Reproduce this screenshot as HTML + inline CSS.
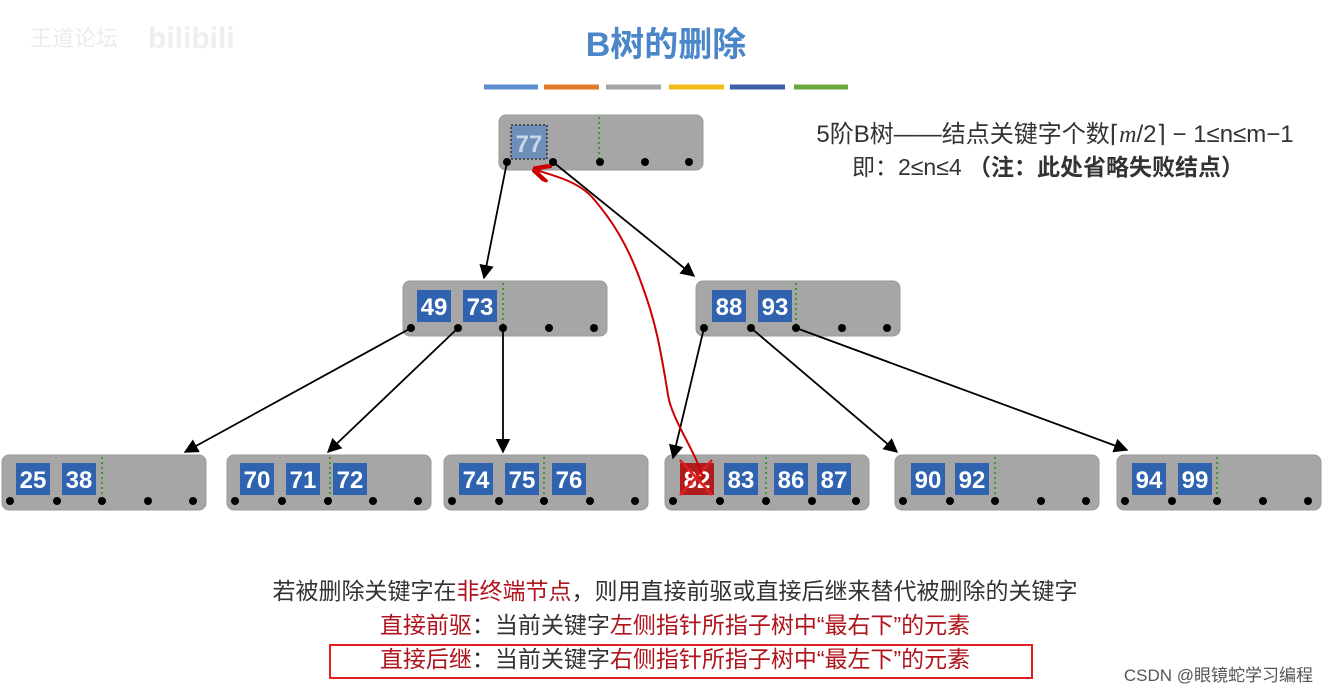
<!DOCTYPE html>
<html><head><meta charset="utf-8"><style>
html,body{margin:0;padding:0;background:#fff;width:1329px;height:694px;overflow:hidden}
svg text{font-family:"Liberation Sans","Noto Sans CJK SC",sans-serif}
</style></head><body>
<svg width="1329" height="694" viewBox="0 0 1329 694" xmlns="http://www.w3.org/2000/svg">
<defs>
<marker id="ah" viewBox="0 0 10 10" refX="9" refY="5" markerWidth="8" markerHeight="8" orient="auto"><path d="M0,0 L10,5 L0,10 z" fill="#000"/></marker>
<marker id="rh" viewBox="0 0 10 10" refX="8" refY="5" markerWidth="9" markerHeight="9" orient="auto"><path d="M0,0 L10,5 L0,10" fill="none" stroke="#c00" stroke-width="2.5"/></marker>
</defs>
<text x="30" y="46" font-size="22" fill="#ececec">王道论坛</text>
<text x="148" y="48" font-size="30" font-weight="bold" fill="#eee">bilibili</text>
<text x="666" y="56" font-size="34" font-weight="bold" fill="#4a86c8" text-anchor="middle">B树的删除</text>
<g stroke-width="5">
<line x1="484" y1="87" x2="538" y2="87" stroke="#5b8fd0"/>
<line x1="544" y1="87" x2="599" y2="87" stroke="#e07b2a"/>
<line x1="606" y1="87" x2="661" y2="87" stroke="#a5a5a5"/>
<line x1="669" y1="87" x2="724" y2="87" stroke="#f2bb1a"/>
<line x1="730" y1="87" x2="785" y2="87" stroke="#3f5ea8"/>
<line x1="794" y1="87" x2="848" y2="87" stroke="#6aaa3c"/>
</g>
<text x="1055" y="142" font-size="24" fill="#333" text-anchor="middle">5阶B树——结点关键字个数⌈<tspan font-family="Liberation Serif" font-style="italic">m</tspan>/2⌉ − 1≤n≤m−1</text>
<text x="1048" y="175" font-size="23" fill="#333" text-anchor="middle">即：2≤n≤4 <tspan font-weight="bold">（注：此处省略失败结点）</tspan></text>

<rect x="499" y="115" width="204" height="55" rx="7" fill="#a6a6a6" stroke="#999"/>
<rect x="511" y="125" width="36" height="34" fill="#6d8fba" stroke="#333" stroke-dasharray="2,2" stroke-width="1.5"/>
<text x="529" y="152" font-size="24" font-weight="bold" fill="#c9d7e8" text-anchor="middle">77</text>
<line x1="599" y1="117" x2="599" y2="160" stroke="#3a9a2a" stroke-width="2" stroke-dasharray="2,3"/>
<g fill="#000"><circle cx="507" cy="162" r="4"/><circle cx="553" cy="162" r="4"/><circle cx="600" cy="162" r="4"/><circle cx="645" cy="162" r="4"/><circle cx="689" cy="162" r="4"/></g>

<g transform="translate(403,281)">
<rect x="0" y="0" width="204" height="55" rx="7" fill="#a6a6a6" stroke="#999"/>
<line x1="100" y1="2" x2="100" y2="45" stroke="#3a9a2a" stroke-width="2" stroke-dasharray="2,3"/>
<rect x="14" y="9" width="34" height="32" fill="#2f63b0"/><text x="31" y="34" font-size="24" font-weight="bold" fill="#fff" text-anchor="middle">49</text>
<rect x="60" y="9" width="34" height="32" fill="#2f63b0"/><text x="77" y="34" font-size="24" font-weight="bold" fill="#fff" text-anchor="middle">73</text>
<g fill="#000"><circle cx="8" cy="47" r="4"/><circle cx="55" cy="47" r="4"/><circle cx="100" cy="47" r="4"/><circle cx="146" cy="47" r="4"/><circle cx="191" cy="47" r="4"/></g>
</g>
<g transform="translate(696,281)">
<rect x="0" y="0" width="204" height="55" rx="7" fill="#a6a6a6" stroke="#999"/>
<line x1="100" y1="2" x2="100" y2="45" stroke="#3a9a2a" stroke-width="2" stroke-dasharray="2,3"/>
<rect x="16" y="9" width="34" height="32" fill="#2f63b0"/><text x="33" y="34" font-size="24" font-weight="bold" fill="#fff" text-anchor="middle">88</text>
<rect x="62" y="9" width="34" height="32" fill="#2f63b0"/><text x="79" y="34" font-size="24" font-weight="bold" fill="#fff" text-anchor="middle">93</text>
<g fill="#000"><circle cx="8" cy="47" r="4"/><circle cx="55" cy="47" r="4"/><circle cx="100" cy="47" r="4"/><circle cx="146" cy="47" r="4"/><circle cx="191" cy="47" r="4"/></g>
</g>

<g transform="translate(2,455)">
<rect x="0" y="0" width="204" height="55" rx="7" fill="#a6a6a6" stroke="#999"/>
<line x1="100" y1="2" x2="100" y2="45" stroke="#3a9a2a" stroke-width="2" stroke-dasharray="2,3"/>
<rect x="14" y="8" width="34" height="32" fill="#2f63b0"/><text x="31" y="33" font-size="24" font-weight="bold" fill="#fff" text-anchor="middle">25</text>
<rect x="60" y="8" width="34" height="32" fill="#2f63b0"/><text x="77" y="33" font-size="24" font-weight="bold" fill="#fff" text-anchor="middle">38</text>
<g fill="#000"><circle cx="8" cy="46" r="4"/><circle cx="55" cy="46" r="4"/><circle cx="100" cy="46" r="4"/><circle cx="146" cy="46" r="4"/><circle cx="191" cy="46" r="4"/></g>
</g>
<g transform="translate(227,455)">
<rect x="0" y="0" width="204" height="55" rx="7" fill="#a6a6a6" stroke="#999"/>
<line x1="103" y1="2" x2="103" y2="45" stroke="#3a9a2a" stroke-width="2" stroke-dasharray="2,3"/>
<rect x="13" y="8" width="34" height="32" fill="#2f63b0"/><text x="30" y="33" font-size="24" font-weight="bold" fill="#fff" text-anchor="middle">70</text>
<rect x="59" y="8" width="34" height="32" fill="#2f63b0"/><text x="76" y="33" font-size="24" font-weight="bold" fill="#fff" text-anchor="middle">71</text>
<rect x="106" y="8" width="34" height="32" fill="#2f63b0"/><text x="123" y="33" font-size="24" font-weight="bold" fill="#fff" text-anchor="middle">72</text>
<g fill="#000"><circle cx="8" cy="46" r="4"/><circle cx="55" cy="46" r="4"/><circle cx="101" cy="46" r="4"/><circle cx="146" cy="46" r="4"/><circle cx="191" cy="46" r="4"/></g>
</g>
<g transform="translate(444,455)">
<rect x="0" y="0" width="204" height="55" rx="7" fill="#a6a6a6" stroke="#999"/>
<line x1="100" y1="2" x2="100" y2="45" stroke="#3a9a2a" stroke-width="2" stroke-dasharray="2,3"/>
<rect x="15" y="8" width="34" height="32" fill="#2f63b0"/><text x="32" y="33" font-size="24" font-weight="bold" fill="#fff" text-anchor="middle">74</text>
<rect x="61" y="8" width="34" height="32" fill="#2f63b0"/><text x="78" y="33" font-size="24" font-weight="bold" fill="#fff" text-anchor="middle">75</text>
<rect x="108" y="8" width="34" height="32" fill="#2f63b0"/><text x="125" y="33" font-size="24" font-weight="bold" fill="#fff" text-anchor="middle">76</text>
<g fill="#000"><circle cx="8" cy="46" r="4"/><circle cx="55" cy="46" r="4"/><circle cx="100" cy="46" r="4"/><circle cx="146" cy="46" r="4"/><circle cx="191" cy="46" r="4"/></g>
</g>
<g transform="translate(665,455)">
<rect x="0" y="0" width="204" height="55" rx="7" fill="#a6a6a6" stroke="#999"/>
<line x1="101" y1="2" x2="101" y2="45" stroke="#3a9a2a" stroke-width="2" stroke-dasharray="2,3"/>
<rect x="15" y="8" width="34" height="32" fill="#b01c1c"/><text x="32" y="33" font-size="24" font-weight="bold" fill="#fff" text-anchor="middle">82</text>
<line x1="15" y1="5" x2="47" y2="40" stroke="#e02020" stroke-width="2.5"/><line x1="47" y1="5" x2="15" y2="40" stroke="#e02020" stroke-width="2.5"/>
<rect x="59" y="8" width="34" height="32" fill="#2f63b0"/><text x="76" y="33" font-size="24" font-weight="bold" fill="#fff" text-anchor="middle">83</text>
<rect x="109" y="8" width="34" height="32" fill="#2f63b0"/><text x="126" y="33" font-size="24" font-weight="bold" fill="#fff" text-anchor="middle">86</text>
<rect x="152" y="8" width="34" height="32" fill="#2f63b0"/><text x="169" y="33" font-size="24" font-weight="bold" fill="#fff" text-anchor="middle">87</text>
<g fill="#000"><circle cx="8" cy="46" r="4"/><circle cx="55" cy="46" r="4"/><circle cx="101" cy="46" r="4"/><circle cx="147" cy="46" r="4"/><circle cx="191" cy="46" r="4"/></g>
</g>
<g transform="translate(895,455)">
<rect x="0" y="0" width="204" height="55" rx="7" fill="#a6a6a6" stroke="#999"/>
<line x1="100" y1="2" x2="100" y2="45" stroke="#3a9a2a" stroke-width="2" stroke-dasharray="2,3"/>
<rect x="16" y="8" width="34" height="32" fill="#2f63b0"/><text x="33" y="33" font-size="24" font-weight="bold" fill="#fff" text-anchor="middle">90</text>
<rect x="60" y="8" width="34" height="32" fill="#2f63b0"/><text x="77" y="33" font-size="24" font-weight="bold" fill="#fff" text-anchor="middle">92</text>
<g fill="#000"><circle cx="8" cy="46" r="4"/><circle cx="55" cy="46" r="4"/><circle cx="100" cy="46" r="4"/><circle cx="146" cy="46" r="4"/><circle cx="191" cy="46" r="4"/></g>
</g>
<g transform="translate(1117,455)">
<rect x="0" y="0" width="204" height="55" rx="7" fill="#a6a6a6" stroke="#999"/>
<line x1="100" y1="2" x2="100" y2="45" stroke="#3a9a2a" stroke-width="2" stroke-dasharray="2,3"/>
<rect x="15" y="8" width="34" height="32" fill="#2f63b0"/><text x="32" y="33" font-size="24" font-weight="bold" fill="#fff" text-anchor="middle">94</text>
<rect x="61" y="8" width="34" height="32" fill="#2f63b0"/><text x="78" y="33" font-size="24" font-weight="bold" fill="#fff" text-anchor="middle">99</text>
<g fill="#000"><circle cx="8" cy="46" r="4"/><circle cx="55" cy="46" r="4"/><circle cx="100" cy="46" r="4"/><circle cx="146" cy="46" r="4"/><circle cx="191" cy="46" r="4"/></g>
</g>

<g stroke="#000" stroke-width="1.8" fill="none" marker-end="url(#ah)">
<line x1="507" y1="162" x2="484" y2="278"/>
<line x1="553" y1="162" x2="694" y2="276"/>
<line x1="411" y1="328" x2="185" y2="452"/>
<line x1="458" y1="328" x2="328" y2="452"/>
<line x1="503" y1="328" x2="503" y2="452"/>
<line x1="704" y1="328" x2="673" y2="458"/>
<line x1="751" y1="328" x2="897" y2="452"/>
<line x1="796" y1="328" x2="1127" y2="450"/>
</g>
<path d="M703,478 C695,450 672,420 668,395 C660,345 655,320 642,285 C628,245 612,220 592,197 C578,182 556,176 536,170" stroke="#c00" stroke-width="2" fill="none" marker-end="url(#rh)"/>

<text x="675" y="599" font-size="23" fill="#333" text-anchor="middle">若被删除关键字在<tspan fill="#b0141c">非终端节点</tspan>，则用直接前驱或直接后继来替代被删除的关键字</text>
<text x="675" y="633" font-size="23" fill="#333" text-anchor="middle"><tspan fill="#b0141c">直接前驱</tspan>：当前关键字<tspan fill="#b0141c">左侧指针所指子树中“最右下”的元素</tspan></text>
<text x="675" y="667" font-size="23" fill="#333" text-anchor="middle"><tspan fill="#b0141c">直接后继</tspan>：当前关键字<tspan fill="#b0141c">右侧指针所指子树中“最左下”的元素</tspan></text>
<rect x="330" y="645" width="702" height="33" fill="none" stroke="#e02020" stroke-width="2"/>
<text x="1313" y="681" font-size="17" fill="#555" text-anchor="end">CSDN @眼镜蛇学习编程</text>
</svg>
</body></html>
